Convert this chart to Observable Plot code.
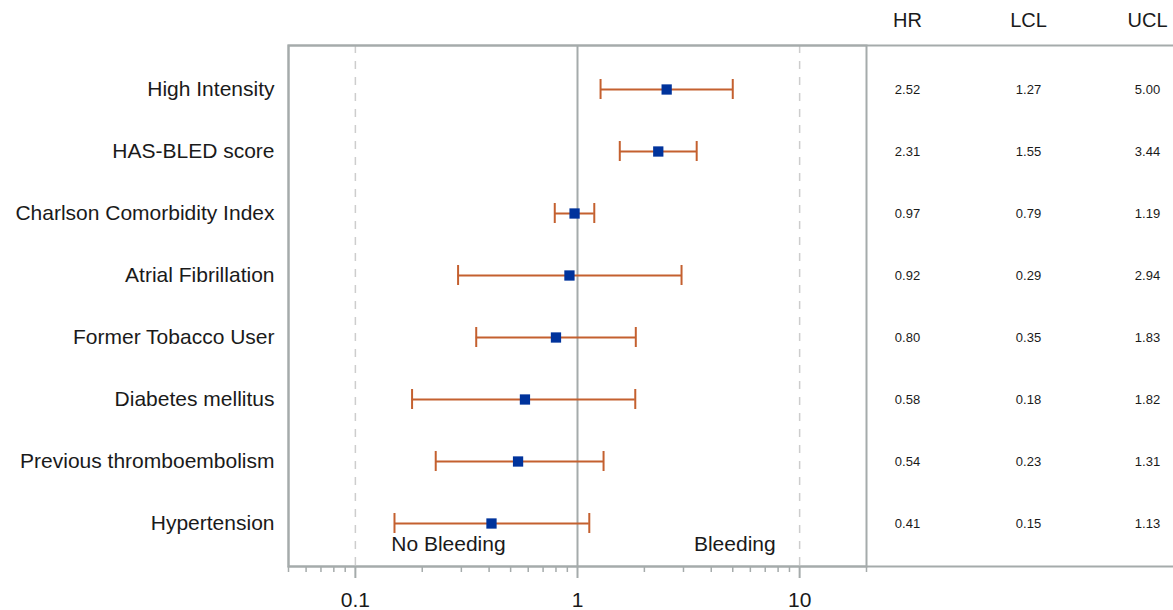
<!DOCTYPE html>
<html>
<head>
<meta charset="utf-8">
<script src="https://cdn.jsdelivr.net/npm/d3@7"></script>
<script src="https://cdn.jsdelivr.net/npm/@observablehq/plot@0.6"></script>
<style>
  html, body { margin: 0; padding: 0; background: #fff; overflow: hidden; }
  #chart svg { overflow: hidden; }
</style>
</head>
<body>
<div id="chart"></div>
<script>
// ---- data ----
const categories = [
  "High Intensity",
  "HAS-BLED score",
  "Charlson Comorbidity Index",
  "Atrial Fibrillation",
  "Former Tobacco User",
  "Diabetes mellitus",
  "Previous thromboembolism",
  "Hypertension"
];
const hr  = [2.52, 2.31, 0.97, 0.92, 0.80, 0.58, 0.54, 0.41];
const lcl = [1.27, 1.55, 0.79, 0.29, 0.35, 0.18, 0.23, 0.15];
const ucl = [5.00, 3.44, 1.19, 2.94, 1.83, 1.82, 1.31, 1.13];

const majorTicks = [0.1, 1, 10];
const minorTicks = [0.05, 0.06, 0.07, 0.08, 0.09, 0.2, 0.3, 0.4, 0.5, 0.6, 0.7, 0.8, 0.9,
                    2, 3, 4, 5, 6, 7, 8, 9, 20];
const refDashed = [0.1, 10];
const refSolid = [1];
const tableHeaders = ["HR", "LCL", "UCL"];
const leftNote = {label: "No Bleeding", x: 0.145};
const rightNote = {label: "Bleeding", x: 7.8};

const rows = categories.map((c, i) => ({cat: c, hr: hr[i], lcl: lcl[i], ucl: ucl[i]}));
const lastCat = categories[categories.length - 1];

const gray = "#a5abab";
const orange = "#c4602f";
const blue = "#00339c";
const ink = "#1a1a1a";
const colDx = [41, 162, 281];

const chart = Plot.plot({
  width: 1173,
  height: 610,
  marginLeft: 288,
  marginRight: 307,
  marginTop: 45,
  marginBottom: 44,
  style: {fontFamily: "'Liberation Sans', Arial, sans-serif", fontSize: "21px", color: ink, background: "#fff"},
  x: {type: "log", domain: [0.05, 20], label: null},
  y: {type: "band", domain: categories, paddingInner: 0, paddingOuter: 0.18, label: null},
  marks: [
    Plot.ruleX(refDashed, {stroke: "#cdcdcd", strokeWidth: 1.5, strokeDasharray: "8,8"}),
    Plot.ruleX(refSolid, {stroke: gray, strokeWidth: 2}),
    Plot.frame({stroke: gray, strokeWidth: 2, insetRight: -330}),
    Plot.frame({stroke: gray, strokeWidth: 2}),
    Plot.axisX(minorTicks, {tickSize: 6, tickFormat: () => "", stroke: gray, strokeWidth: 1.5}),
    Plot.axisX(majorTicks, {tickSize: 12, tickPadding: 14, tickFormat: d => String(d), stroke: gray, strokeWidth: 2, fill: ink, fontSize: 21}),
    Plot.axisY({tickSize: 0, tickPadding: 14, fontSize: 21, fill: ink}),
    Plot.ruleY(rows, {y: "cat", x1: "lcl", x2: "ucl", stroke: orange, strokeWidth: 2}),
    Plot.tickX(rows, {y: "cat", x: "lcl", stroke: orange, strokeWidth: 2, insetTop: 21, insetBottom: 21}),
    Plot.tickX(rows, {y: "cat", x: "ucl", stroke: orange, strokeWidth: 2, insetTop: 21, insetBottom: 21}),
    Plot.dot(rows, {y: "cat", x: "hr", symbol: "square", r: 5.8, fill: blue, stroke: null}),
    Plot.text([leftNote], {x: "x", y: () => lastCat, text: "label", textAnchor: "start", dy: 21, fontSize: 21, fill: ink}),
    Plot.text([rightNote], {x: "x", y: () => lastCat, text: "label", textAnchor: "end", dy: 21, fontSize: 21, fill: ink}),
    // table columns
    ...["hr", "lcl", "ucl"].map((k, j) =>
      Plot.text(rows, {y: "cat", text: d => d[k].toFixed(2), frameAnchor: "right",
        textAnchor: "middle", dx: colDx[j], fontSize: 13, fill: ink})),
    ...tableHeaders.map((h, j) =>
      Plot.text([h], {text: d => d, frameAnchor: "top-right", textAnchor: "middle",
        lineAnchor: "middle", dx: colDx[j], dy: -25, fontSize: 20, fill: ink}))
  ]
});
document.getElementById("chart").appendChild(chart);
</script>
</body>
</html>
